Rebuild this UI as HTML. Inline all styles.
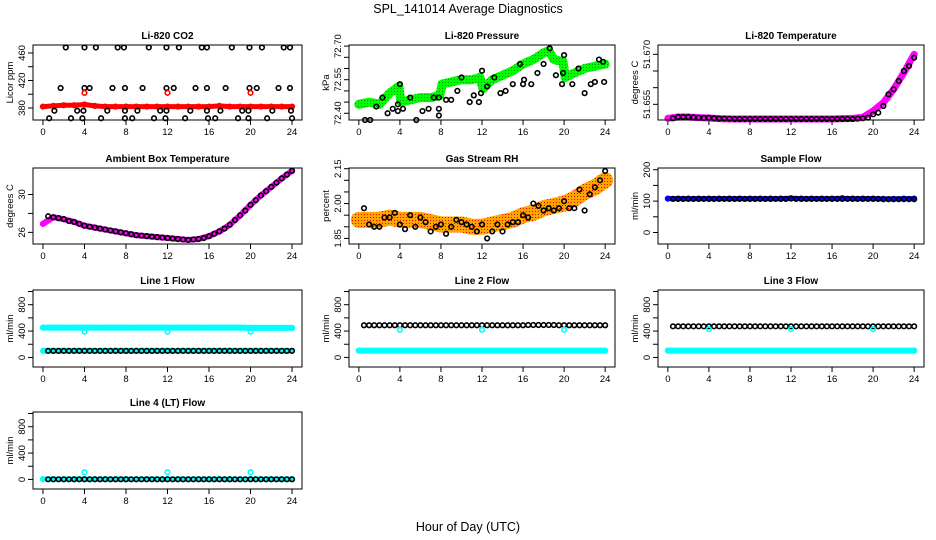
<!DOCTYPE html>
<html><head><meta charset="utf-8"><style>
body{margin:0;background:#fff}
svg{display:block;font-family:"Liberation Sans",sans-serif}
.t{font-size:10px;font-weight:bold;text-anchor:middle}
.lab{font-size:9.5px;fill:#000}
</style></head><body>
<svg id="c" width="936" height="540" viewBox="0 0 936 540">
<text x="468" y="13" style="font-size:12.5px;text-anchor:middle">SPL_141014  Average Diagnostics</text>
<text x="468" y="531" style="font-size:12.5px;text-anchor:middle">Hour of Day (UTC)</text>
<defs>
<pattern id="gp" width="3" height="3" patternUnits="userSpaceOnUse"><rect width="3" height="3" fill="#00ff00"/><rect x="1" y="1" width="1" height="1" fill="#009900"/></pattern>
<pattern id="op" width="3" height="3" patternUnits="userSpaceOnUse"><rect width="3" height="3" fill="#ffa500"/><rect x="1" y="1" width="1" height="1" fill="#ff0000"/></pattern>
</defs>
</svg>
<script>
const xTicks=[0,4,8,12,16,20,24];
const hours=[0,1,2,3,4,5,6,7,8,9,10,11,12,13,14,15,16,17,18,19,20,21,22,23,24];
const halfHours=[0.5,1,1.5,2,2.5,3,3.5,4,4.5,5,5.5,6,6.5,7,7.5,8,8.5,9,9.5,10,10.5,11,11.5,12,12.5,13,13.5,14,14.5,15,15.5,16,16.5,17,17.5,18,18.5,19,19.5,20,20.5,21,21.5,22,22.5,23,23.5,24];
// CO2
const co2Red=[382,383,384,384,385,383,382,382,382,382,382,382,382,382,382,382,382,383,382,382,382,382,382,382,382];
const co2BlackX=[2.2,4.0,5.1,7.2,7.8,10.2,11.9,13.1,15.3,15.8,18.2,19.9,21.1,23.2,23.8,1.7,4.0,4.5,6.7,7.9,9.6,11.9,12.6,14.7,15.8,17.6,19.9,20.6,22.7,23.8,1.1,3.3,3.9,6.2,7.9,9.1,11.3,11.9,14.2,15.8,17.1,19.2,19.8,22.1,23.9,0.6,2.7,3.8,5.6,7.9,8.6,10.7,11.8,13.7,15.9,16.6,18.8,19.8,21.6,24.0];
const co2BlackY=[468,468,468,468,468,468,468,468,468,468,468,468,468,468,468,409,409,409,409,409,409,409,409,409,409,409,409,409,409,409,376,376,376,376,376,376,376,376,376,376,376,376,376,376,376,365,365,365,365,365,365,365,365,365,365,365,365,365,365,365];
const co2OutX=[4,12,20];
const co2OutY=[402,402,402];
// Pressure
const pressGreenX=[0,1,2,3,3.9,4.1,5,6,7,7.9,8.1,9,10,11,11.8,12.1,13,14,15,16,17,18,18.5,19,19.9,20.1,21,22,23,24];
const pressGreenY=[72.44,72.45,72.44,72.49,72.52,72.45,72.46,72.47,72.47,72.48,72.53,72.54,72.55,72.55,72.56,72.51,72.55,72.57,72.59,72.62,72.64,72.67,72.68,72.64,72.63,72.56,72.58,72.6,72.61,72.62];
const pressBlackX=[0.6,1.1,1.7,2.3,2.8,3.3,3.8,3.8,4.0,4.3,5.0,5.6,6.2,6.8,7.3,7.8,7.8,7.8,8.5,9.0,9.6,10.0,10.8,11.2,11.7,11.9,12.0,12.5,13.2,13.8,14.3,15.0,15.7,16.0,16.1,16.8,17.4,18.0,18.6,19.2,19.8,19.9,20.0,20.8,21.4,22.0,22.6,23.0,23.4,23.8,23.9];
const pressBlackY=[72.37,72.37,72.43,72.47,72.4,72.42,72.41,72.44,72.53,72.42,72.47,72.37,72.41,72.42,72.47,72.47,72.42,72.39,72.46,72.46,72.5,72.56,72.45,72.48,72.45,72.49,72.59,72.52,72.56,72.49,72.5,72.53,72.62,72.53,72.55,72.53,72.58,72.62,72.69,72.57,72.53,72.58,72.66,72.53,72.6,72.49,72.53,72.54,72.64,72.63,72.54];
// Li-820 temperature
const tempMag=[51.6508,51.6512,51.6512,51.651,51.6509,51.6507,51.6506,51.6506,51.6506,51.6506,51.6506,51.6506,51.6506,51.6506,51.6506,51.6506,51.6506,51.6507,51.6508,51.6511,51.653,51.6555,51.6595,51.6645,51.67];
const tempBlack=[51.6508,51.6512,51.6512,51.6512,51.6511,51.651,51.6509,51.651,51.6508,51.6507,51.6507,51.6507,51.6506,51.6506,51.6506,51.6506,51.6506,51.6506,51.6506,51.6506,51.6506,51.6506,51.6506,51.6506,51.6506,51.6506,51.6506,51.6506,51.6506,51.6506,51.6506,51.6506,51.6506,51.6506,51.6506,51.6506,51.6507,51.6508,51.651,51.652,51.6525,51.6545,51.658,51.6595,51.662,51.665,51.6665,51.669];
// Ambient
const ambMag=[26.9,27.6,27.4,27.1,26.7,26.5,26.3,26.1,25.9,25.7,25.6,25.5,25.4,25.3,25.2,25.3,25.6,26.1,26.8,27.8,28.9,29.9,30.8,31.7,32.5];
const ambBlack=[27.7,27.6,27.5,27.4,27.2,27.1,26.9,26.7,26.6,26.5,26.4,26.3,26.2,26.1,26,25.9,25.8,25.7,25.65,25.6,25.55,25.5,25.45,25.4,25.35,25.3,25.25,25.2,25.25,25.3,25.4,25.6,25.85,26.1,26.4,26.8,27.3,27.8,28.3,28.9,29.4,29.9,30.35,30.8,31.25,31.7,32.1,32.5];
// RH
const rhOrange=[1.93,1.93,1.93,1.94,1.93,1.93,1.93,1.92,1.91,1.91,1.91,1.9,1.9,1.91,1.92,1.93,1.95,1.96,1.98,1.99,2.0,2.02,2.05,2.07,2.1];
const rhBlack=[1.98,1.91,1.9,1.9,1.94,1.94,1.96,1.91,1.89,1.95,1.9,1.94,1.92,1.88,1.9,1.91,1.87,1.9,1.93,1.92,1.91,1.9,1.88,1.91,1.85,1.88,1.91,1.88,1.91,1.92,1.92,1.95,1.94,2.0,1.99,1.97,1.98,1.97,1.98,2.01,1.98,1.98,2.06,1.97,2.04,2.07,2.1,2.14];
// Sample flow
const sampleBlue=[108,108,108,108,108,108,108,108,108,108,108,108,109,108,108,108,108,109,108,108,108,107,107,108,108];
const sampleBlack=[107,107,107,107,107,107,107,107,107,107,107,107,107,107,107,107,107,107,107,107,107,107,107,108,107,107,107,107,107,107,107,107,107,107,107,107,107,107,107,107,107,106,106,106,106,106,106,106];
// Line flows
const line1Cyan=[452,452,452,452,452,452,452,452,452,452,452,452,452,452,452,452,452,452,452,452,448,448,448,448,448];
const line1Black=[100,100,100,100,100,100,100,100,100,100,100,100,100,100,100,100,100,100,100,100,100,100,100,100,100,100,100,100,100,100,100,100,100,100,100,100,100,100,100,100,100,100,100,100,100,100,100,100];
const line2Cyan=[104,104,104,104,104,104,104,104,104,104,104,104,104,104,104,104,104,104,104,104,104,104,104,104,104];
const line2Black=[488,488,488,488,488,488,488,488,488,488,488,488,488,488,488,488,488,488,488,488,488,488,488,488,488,488,488,488,488,488,488,488,492,492,492,492,492,492,488,488,488,488,488,488,488,488,488,488];
const line3Cyan=[104,104,104,104,104,104,104,104,104,104,104,104,104,104,104,104,104,104,104,104,104,104,104,104,104];
const line3Black=[472,472,472,472,472,472,472,472,472,472,472,472,472,472,472,472,472,472,472,472,472,472,472,472,472,472,472,472,472,472,472,472,472,472,472,472,472,472,472,472,472,472,472,472,472,472,472,472];
const line4Cyan=[5,5,5,5,5,5,5,5,5,5,5,5,5,5,5,5,5,5,5,5,5,5,5,5,5];
const line4Black=[2,2,2,2,2,2,2,2,2,2,2,2,2,2,2,2,2,2,2,2,2,2,2,2,2,2,2,2,2,2,2,2,2,2,2,2,2,2,2,2,2,2,2,2,2,2,2,2];
const outX=[4,12,20];
const line1Out=[390,390,390];
const line2Out=[420,420,420];
const line3Out=[430,430,430];
const line4Out=[110,110,110];

const NS='http://www.w3.org/2000/svg';
const svg=document.getElementById('c');
function el(tag,attrs,parent){const e=document.createElementNS(NS,tag);for(const k in attrs)e.setAttribute(k,attrs[k]);(parent||svg).appendChild(e);return e;}

function panel(p){
  const g=el('g',{});
  
  
  const xmin=-0.96,xmax=24.96;
  const sx=v=>p.l+(v-xmin)/(xmax-xmin)*(p.r-p.l);
  const sy=v=>p.b-(v-p.y0)/(p.y1-p.y0)*(p.b-p.t);
  const tt=el('text',{x:(p.l+p.r)/2,y:p.t-6,class:'t'},g);tt.textContent=p.title;
  
  
  el('line',{x1:sx(0),x2:sx(24),y1:p.b,y2:p.b,stroke:'#000'},g);
  xTicks.forEach(v=>{el('line',{x1:sx(v),x2:sx(v),y1:p.b,y2:p.b+5,stroke:'#000'},g);
    const t=el('text',{x:sx(v),y:p.b+15,class:'lab','text-anchor':'middle'},g);t.textContent=v;
    
    });
  el('line',{x1:p.l,x2:p.l,y1:sy(p.ticks[0]),y2:sy(p.ticks[p.ticks.length-1]),stroke:'#000'},g);
  p.ticks.forEach(v=>el('line',{x1:p.l-5,x2:p.l,y1:sy(v),y2:sy(v),stroke:'#000'},g));
  p.labels.forEach(v=>{const t=el('text',{x:0,y:0,class:'lab','text-anchor':'middle',transform:`translate(${p.l-8},${sy(v)}) rotate(-90)`},g);t.textContent=p.fmt?v.toFixed(p.fmt):v;
    
    });
  const yt=el('text',{x:0,y:0,class:'lab','text-anchor':'middle',transform:`translate(${p.l-20},${(p.t+p.b)/2}) rotate(-90)`},g);yt.textContent=p.ytitle;
  
  
  const cg=el('g',{},g);
  p.series.forEach(s=>{
    if(s.band){
      const d=s.x.map((x,i)=>(i?'L':'M')+sx(x)+','+sy(s.y[i])).join(' ');
      const path=el('path',{d:d,fill:'none',stroke:s.color,'stroke-width':s.band,'stroke-linejoin':'round','stroke-linecap':'round'},cg);
      
      
    }
    if(s.pts!==false){
      s.x.forEach((x,i)=>{const c=el('circle',{cx:sx(x),cy:sy(s.y[i]),r:2.3,fill:'none',stroke:s.pcolor||s.color,'stroke-width':1.6},cg);
        
        });
    }
  });
  el('rect',{x:p.l,y:p.t,width:p.r-p.l,height:p.b-p.t,fill:'none',stroke:'#000'},g);
}
const C1=[33,302],C2=[349,615],C3=[658,924];
const R1=[45,120],R2=[168,244],R3=[290,367],R4=[412,489];
const flowTicks=[0,200,400,600,800,1000],flowLabels=[0,400,800];
panel({name:'co2',title:'Li-820 CO2',ytitle:'Licor ppm',l:C1[0],r:C1[1],t:R1[0],b:R1[1],y0:362.5,y1:471.6,ticks:[380,400,420,440,460],labels:[380,420,460],
 series:[{name:'co2-red',x:hours,y:co2Red,color:'#ff0000',band:5},{name:'co2-black',x:co2BlackX,y:co2BlackY,color:'#000'},{name:'co2-outlier',x:co2OutX,y:co2OutY,color:'#ff0000'}]});
panel({name:'pressure',title:'Li-820 Pressure',ytitle:'kPa',l:C2[0],r:C2[1],t:R1[0],b:R1[1],y0:72.37,y1:72.705,ticks:[72.4,72.45,72.5,72.55,72.6,72.65,72.7],labels:[72.4,72.55,72.7],fmt:2,
 series:[{name:'pressure-green',x:pressGreenX,y:pressGreenY,color:'url(#gp)',pcolor:'#00ff00',band:9,pts:false},{name:'pressure-black',x:pressBlackX,y:pressBlackY,color:'#000'}]});
panel({name:'temperature',title:'Li-820 Temperature',ytitle:'degrees C',l:C3[0],r:C3[1],t:R1[0],b:R1[1],y0:51.6503,y1:51.6728,ticks:[51.655,51.66,51.665,51.67],labels:[51.655,51.67],fmt:3,
 series:[{name:'temperature-magenta',x:hours,y:tempMag,color:'#ff00ff',band:7},{name:'temperature-black',x:halfHours,y:tempBlack,color:'#000'}]});
panel({name:'ambient',title:'Ambient Box Temperature',ytitle:'degrees C',l:C1[0],r:C1[1],t:R2[0],b:R2[1],y0:24.77,y1:32.8,ticks:[26,28,30],labels:[26,30],
 series:[{name:'ambient-magenta',x:hours,y:ambMag,color:'#ff00ff',band:6},{name:'ambient-black',x:halfHours,y:ambBlack,color:'#000'}]});
panel({name:'rh',title:'Gas Stream RH',ytitle:'percent',l:C2[0],r:C2[1],t:R2[0],b:R2[1],y0:1.826,y1:2.153,ticks:[1.85,1.9,1.95,2.0,2.05,2.1,2.15],labels:[1.85,2.0,2.15],fmt:2,
 series:[{name:'rh-orange',x:hours,y:rhOrange,color:'url(#op)',band:16,pts:false},{name:'rh-black',x:halfHours,y:rhBlack,color:'#000'}]});
panel({name:'sample-flow',title:'Sample Flow',ytitle:'ml/min',l:C3[0],r:C3[1],t:R2[0],b:R2[1],y0:-36.6,y1:205.4,ticks:[0,50,100,150,200],labels:[0,100,200],
 series:[{name:'sample-blue',x:hours,y:sampleBlue,color:'#0000ff',band:5},{name:'sample-black',x:halfHours,y:sampleBlack,color:'#000'}]});
panel({name:'line1',title:'Line 1 Flow',ytitle:'ml/min',l:C1[0],r:C1[1],t:R3[0],b:R3[1],y0:-145,y1:1023,ticks:flowTicks,labels:flowLabels,
 series:[{name:'line1-cyan',x:hours,y:line1Cyan,color:'#00ffff',band:6},{name:'line1-cyan-low',x:hours,y:line1Black,color:'#00ffff',band:6,pts:false},{name:'line1-black',x:halfHours,y:line1Black,color:'#000'},{name:'line1-outlier',x:outX,y:line1Out,color:'#00ffff'}]});
panel({name:'line2',title:'Line 2 Flow',ytitle:'ml/min',l:C2[0],r:C2[1],t:R3[0],b:R3[1],y0:-145,y1:1023,ticks:flowTicks,labels:flowLabels,
 series:[{name:'line2-cyan',x:hours,y:line2Cyan,color:'#00ffff',band:6},{name:'line2-black',x:halfHours,y:line2Black,color:'#000'},{name:'line2-outlier',x:outX,y:line2Out,color:'#00ffff'}]});
panel({name:'line3',title:'Line 3 Flow',ytitle:'ml/min',l:C3[0],r:C3[1],t:R3[0],b:R3[1],y0:-145,y1:1023,ticks:flowTicks,labels:flowLabels,
 series:[{name:'line3-cyan',x:hours,y:line3Cyan,color:'#00ffff',band:6},{name:'line3-black',x:halfHours,y:line3Black,color:'#000'},{name:'line3-outlier',x:outX,y:line3Out,color:'#00ffff'}]});
panel({name:'line4',title:'Line 4 (LT) Flow',ytitle:'ml/min',l:C1[0],r:C1[1],t:R4[0],b:R4[1],y0:-145,y1:1023,ticks:flowTicks,labels:flowLabels,
 series:[{name:'line4-cyan',x:hours,y:line4Cyan,color:'#00ffff',band:5},{name:'line4-black',x:halfHours,y:line4Black,color:'#000'},{name:'line4-outlier',x:outX,y:line4Out,color:'#00ffff'}]});
</script>
</body></html>
